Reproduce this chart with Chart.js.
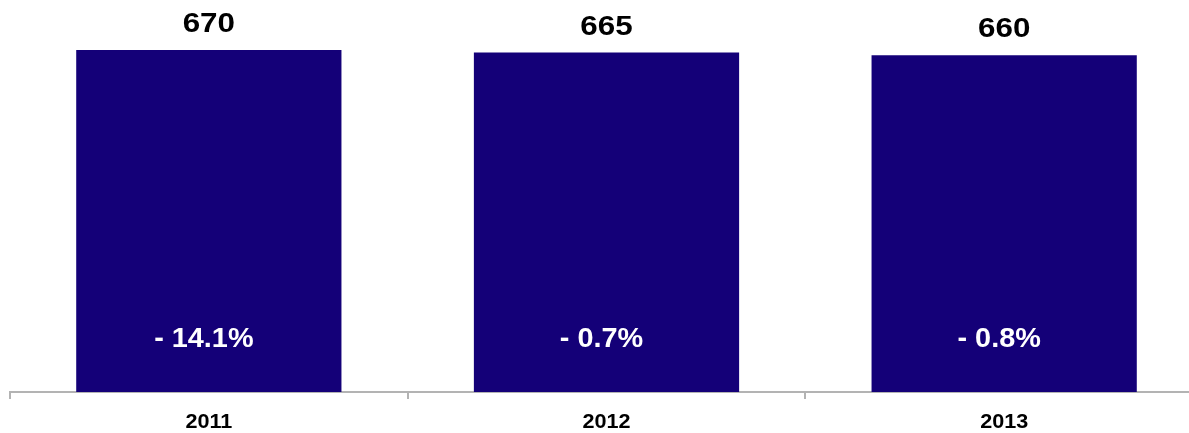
<!DOCTYPE html>
<html>
<head>
<meta charset="utf-8">
<script src="https://cdn.jsdelivr.net/npm/chart.js@4/dist/chart.umd.min.js"></script>
<style>
  html, body { margin: 0; padding: 0; background: #ffffff; overflow: hidden; }
  #wrap { width: 1189px; height: 433px; overflow: hidden; position: relative; }
  #chart { display: block; }
</style>
</head>
<body>
<div id="wrap"><canvas id="chart" width="1203" height="433"></canvas></div>
<script>
const years = ['2011', '2012', '2013'];
const totals = [670, 665, 660];
const changeLabels = ['- 14.1%', '- 0.7%', '- 0.8%'];

const barColor = '#140078';
const axisColor = '#b3b3b3';
const fontFamily = '"Liberation Sans", Arial, Helvetica, sans-serif';

// Writes centred text with a slight horizontal widening, like the wide bold face of the labels.
function wideText(ctx, text, x, y, font, color, stretch) {
  ctx.save();
  ctx.font = font;
  ctx.fillStyle = color;
  ctx.textAlign = 'center';
  ctx.textBaseline = 'alphabetic';
  ctx.translate(x, y);
  ctx.scale(stretch, 1);
  ctx.fillText(text, 0, 0);
  ctx.restore();
}

// Draws each bar's total above it, the year-on-year change inside it and the year below the axis.
const barLabels = {
  id: 'barLabels',
  afterDatasetsDraw(chart) {
    const ctx = chart.ctx;
    const meta = chart.getDatasetMeta(0);
    const xScale = chart.scales.x;
    const base = chart.scales.y.getPixelForValue(0);
    meta.data.forEach((bar, i) => {
      wideText(ctx, String(totals[i]), bar.x, bar.y - 18,
        'bold 28px ' + fontFamily, '#000000', 1.12);
      wideText(ctx, changeLabels[i], bar.x - 5, base - 45,
        'bold 28px ' + fontFamily, '#ffffff', 1.03);
      wideText(ctx, years[i], xScale.getPixelForValue(i), base + 36,
        'bold 20px ' + fontFamily, '#000000', 1.08);
    });
  }
};

new Chart(document.getElementById('chart'), {
  type: 'bar',
  data: {
    labels: years,
    datasets: [{
      data: totals,
      backgroundColor: barColor,
      borderWidth: 0,
      categoryPercentage: 1,
      barPercentage: 0.667
    }]
  },
  options: {
    responsive: false,
    animation: false,
    devicePixelRatio: 1,
    layout: { padding: { left: 10, right: 0, top: 0, bottom: 0 } },
    plugins: {
      legend: { display: false },
      tooltip: { enabled: false }
    },
    scales: {
      y: {
        display: false,
        min: 0,
        max: 768
      },
      x: {
        offset: true,
        grid: {
          display: true,
          offset: true,
          drawOnChartArea: false,
          drawTicks: true,
          tickLength: 7,
          color: axisColor,
          lineWidth: 2
        },
        border: { display: true, color: axisColor, width: 2 },
        ticks: { display: false },
        afterFit(scale) { scale.height = 41; }
      }
    }
  },
  plugins: [barLabels]
});
</script>
</body>
</html>
